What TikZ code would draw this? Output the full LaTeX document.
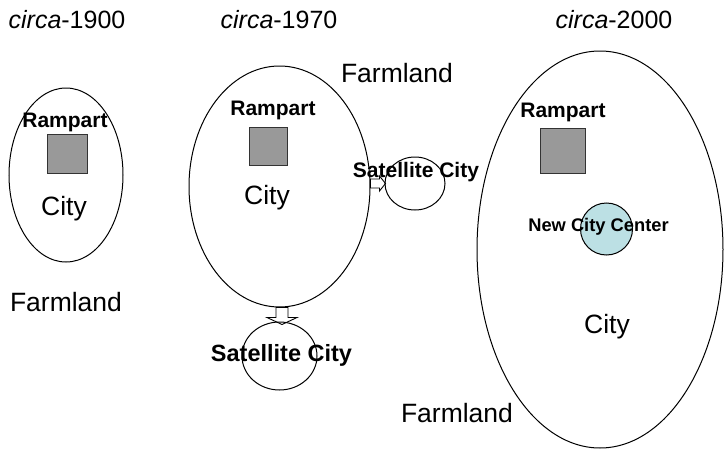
\documentclass[tikz,border=0pt]{standalone}
\usepackage{fontspec}
\setmainfont{Liberation Sans}
\usetikzlibrary{shapes.geometric,calc}
\definecolor{rampgray}{HTML}{999999}
\definecolor{centerblue}{HTML}{BCE0E4}
\tikzset{
  zone/.style={ellipse,draw=black,line width=1pt,inner sep=0pt},
  ramp/.style={rectangle,draw=black!80,line width=1pt,fill=rampgray,inner sep=0pt},
  blk/.style={draw=black,line width=0.9pt,fill=white},
  era/.style={font=\fontsize{25}{30}\selectfont,inner sep=0pt},
  big/.style={font=\fontsize{26.5}{31}\selectfont,inner sep=0pt},
  lbl/.style={font=\fontsize{21}{25}\selectfont\bfseries,inner sep=0pt},
}
\begin{document}
\begin{tikzpicture}[x=1pt,y=-1pt]
\useasboundingbox (0,0) rectangle (724,450);
% era titles
\node[era] (t1) at (67,20) {\textit{circa}-1900};
\node[era] (t2) at (279,20) {\textit{circa}-1970};
\node[era] (t3) at (614,20) {\textit{circa}-2000};
% circa-1900
\node[zone,minimum width=114pt,minimum height=174pt] (c1) at (66,175) {};
\node[ramp,minimum width=40pt,minimum height=39pt] (r1) at (67,153.5) {};
% circa-1970
\node[zone,minimum width=181pt,minimum height=241pt] (c2) at (279.5,186.5) {};
\node[ramp,minimum width=38pt,minimum height=38pt] (r2) at (268,146) {};
\draw[blk] (c2.east) ++(0,-7.5) -- ++(9,0) -- ++(0,-3) -- ++(6,7.5) -- ++(-6,7.5) -- ++(0,-3) -- ++(-9,0) -- cycle;
\draw[blk] (c2.south) ++(-3.5,0) -- ++(0,10) -- ++(-9,0) -- ++(15,7) -- ++(15,-7) -- ++(-9,0) -- ++(0,-10) -- cycle;
\node[zone,minimum width=60pt,minimum height=53pt] (s1) at (415,183.5) {};
\node[zone,minimum width=75pt,minimum height=68pt] (s2) at (279.5,356) {};
% circa-2000
\node[zone,minimum width=246pt,minimum height=397pt] (c3) at (600,249.5) {};
\node[ramp,minimum width=45pt,minimum height=45pt] (r3) at (562.5,150.5) {};
\node[circle,draw=black,line width=1pt,fill=centerblue,minimum size=52pt,inner sep=0pt] (nc) at (606.5,229) {};
% labels
\node[lbl] (rl1) at (65,122) {Rampart};
\node[big] (cl1) at (64,209) {City};
\node[big] (f1) at (66,302) {Farmland};
\node[lbl] (rl2) at (273,110) {Rampart};
\node[big] (cl2) at (267,198) {City};
\node[big] (f2) at (397,73) {Farmland};
\node[lbl] (sl1) at (416,172) {Satellite City};
\node[lbl,font=\fontsize{23.5}{28}\selectfont\bfseries] (sl2) at (281.5,355) {Satellite City};
\node[lbl] (rl3) at (563,112) {Rampart};
\node[lbl,font=\fontsize{18.3}{22}\selectfont\bfseries] (ncl) at (598.5,227) {New City Center};
\node[big] (cl3) at (607,327) {City};
\node[big] (f3) at (457,413) {Farmland};
\end{tikzpicture}
\end{document}
